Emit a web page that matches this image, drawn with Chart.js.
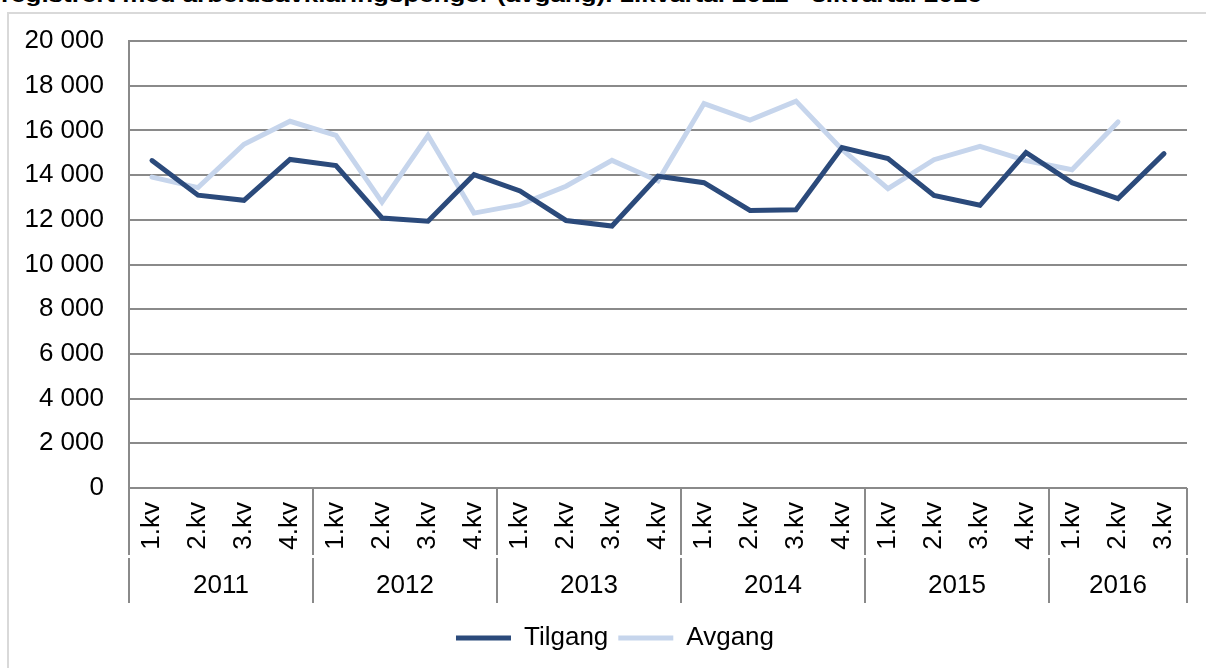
<!DOCTYPE html>
<html>
<head>
<meta charset="utf-8">
<script src="https://cdn.jsdelivr.net/npm/chart.js@4"></script>
<style>
    body { margin: 0; background: #fff; }
    #wrap { position: relative; width: 1206px; height: 668px; overflow: hidden; }
    #frame { position: absolute; left: 7px; top: 12px; width: 1250px; height: 700px; border: 2px solid #d9d9d9; box-sizing: border-box; }
    #title { position: absolute; left: 1px; top: -17px; white-space: nowrap; font: bold 21px "Liberation Sans", Arial, sans-serif; color: #000; transform-origin: 0 0; }
    canvas { position: absolute; left: 0; top: 0; }
</style>
</head>
<body>
<div id="wrap">
    <div id="frame"></div>
    <div id="title">registrert med arbeidsavklaringspenger (avgang). 1.kvartal 2011 - 3.kvartal 2016</div>
    <canvas id="chart" width="1206" height="668"></canvas>
</div>
<script>
const quarters = ["1.kv", "2.kv", "3.kv", "4.kv", "1.kv", "2.kv", "3.kv", "4.kv",
    "1.kv", "2.kv", "3.kv", "4.kv", "1.kv", "2.kv", "3.kv", "4.kv",
    "1.kv", "2.kv", "3.kv", "4.kv", "1.kv", "2.kv", "3.kv"];
const years = ["2011", "2012", "2013", "2014", "2015", "2016"];
const yearStart = [0, 4, 8, 12, 16, 20];

const tilgang = [14650, 13100, 12870, 14700, 14430, 12080, 11940, 14020,
    13290, 11970, 11720, 13950, 13660, 12420, 12450, 15230,
    14740, 13090, 12650, 15010, 13660, 12950, 14960];
const avgang = [13910, 13440, 15380, 16410, 15780, 12790, 15780, 12300,
    12680, 13500, 14660, 13740, 17200, 16460, 17310, 15150,
    13390, 14690, 15290, 14650, 14240, 16380, null];

const yTicks = [0, 2000, 4000, 6000, 8000, 10000, 12000, 14000, 16000, 18000, 20000];

// fit the cut-off title to its width in the picture
const title = document.getElementById("title");
title.style.transform = "scaleX(" + (981 / title.offsetWidth) + ")";

function fmt(v) {
    return String(v).replace(/\B(?=(\d{3})+(?!\d))/g, " ");
}

const gridGray = "#8a8a8a";
const font = { family: "'Liberation Sans', Arial, sans-serif", size: 26 };

// year groups under the quarter labels
const yearGroups = {
    id: "yearGroups",
    afterLayout(chart) {
        // legend is centred under the plot in the original, not the canvas
        chart.legend.left += 43;
    },
    afterDraw(chart) {
        const x = chart.scales.x;
        const area = chart.chartArea;
        const ctx = chart.ctx;
        const step = x.getPixelForValue(1) - x.getPixelForValue(0);
        const bounds = yearStart.map(i => x.getPixelForValue(i) - step / 2);
        bounds.push(x.getPixelForValue(quarters.length - 1) + step / 2);
        ctx.save();
        ctx.strokeStyle = gridGray;
        ctx.lineWidth = 2;
        for (let b of bounds) {
            const bx = Math.round(b);
            ctx.beginPath();
            ctx.moveTo(bx, area.bottom);
            ctx.lineTo(bx, area.bottom + 67);
            ctx.moveTo(bx, area.bottom + 70);
            ctx.lineTo(bx, area.bottom + 115);
            ctx.stroke();
        }
        ctx.fillStyle = "#000";
        ctx.font = font.size + "px " + font.family;
        ctx.textAlign = "center";
        ctx.textBaseline = "middle";
        years.forEach((y, i) => {
            ctx.fillText(y, (bounds[i] + bounds[i + 1]) / 2, area.bottom + 98);
        });
        ctx.restore();
    }
};

const ctx = document.getElementById("chart").getContext("2d");
new Chart(ctx, {
    type: "line",
    data: {
        labels: quarters,
        datasets: [{
            label: "Tilgang",
            data: tilgang,
            borderColor: "#2b4a7b",
            backgroundColor: "#2b4a7b",
            borderWidth: 5,
            borderCapStyle: "round",
            pointRadius: 0,
            tension: 0
        }, {
            label: "Avgang",
            data: avgang,
            borderColor: "#c6d5ec",
            backgroundColor: "#c6d5ec",
            borderWidth: 5,
            borderCapStyle: "round",
            pointRadius: 0,
            tension: 0
        }]
    },
    options: {
        responsive: false,
        animation: false,
        layout: {
            padding: { left: 0, right: 19, top: 41, bottom: 7 }
        },
        plugins: {
            legend: {
                position: "bottom",
                labels: {
                    usePointStyle: true,
                    pointStyle: "line",
                    pointStyleWidth: 55,
                    color: "#000",
                    font: font,
                    padding: 10
                }
            },
            tooltip: { enabled: false }
        },
        scales: {
            x: {
                offset: true,
                grid: { display: false },
                border: { display: false },
                ticks: {
                    color: "#000",
                    font: font,
                    minRotation: 90,
                    maxRotation: 90,
                    autoSkip: false,
                    padding: 6
                },
                afterFit(scale) { scale.height = 127; }
            },
            y: {
                min: 0,
                max: 20000,
                afterBuildTicks(scale) { scale.ticks = yTicks.map(v => ({ value: v })); },
                grid: { color: gridGray, lineWidth: 2, drawTicks: false },
                border: { display: true, color: gridGray, width: 2 },
                ticks: {
                    color: "#000",
                    font: font,
                    padding: 25,
                    callback: v => fmt(v)
                },
                afterFit(scale) { scale.width = 129; }
            }
        }
    },
    plugins: [yearGroups]
});
</script>
</body>
</html>
